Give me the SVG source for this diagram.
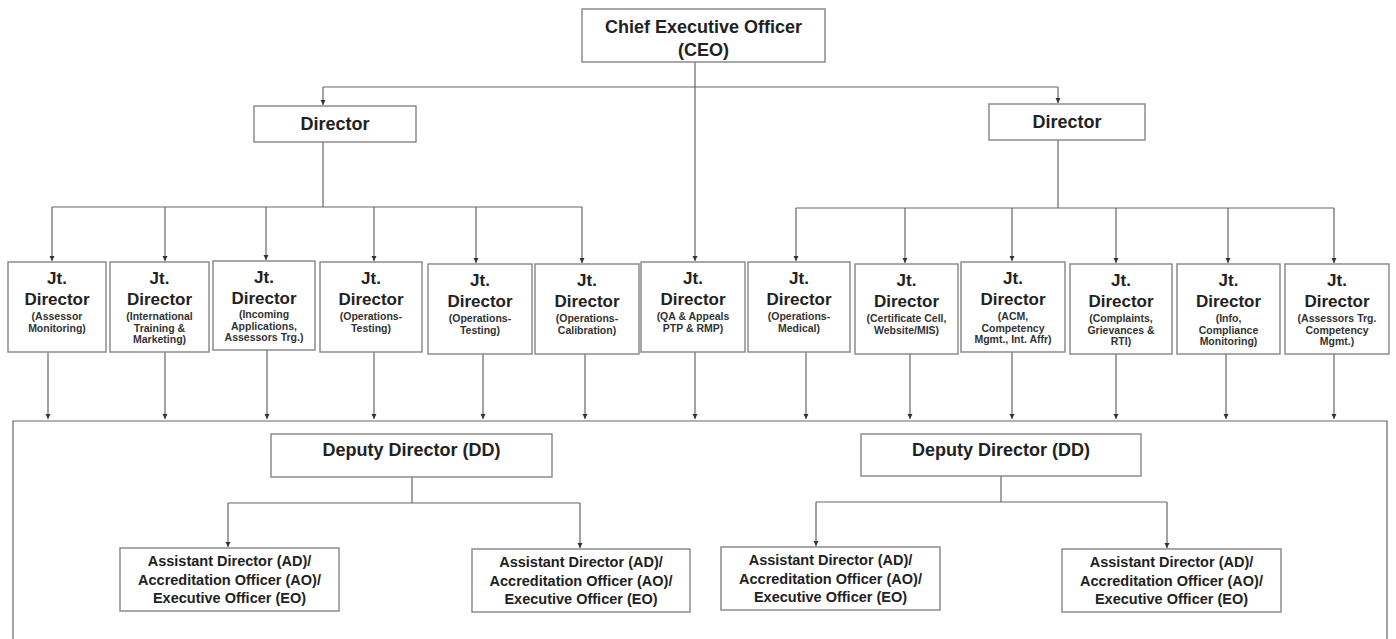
<svg xmlns="http://www.w3.org/2000/svg" width="1396" height="639" viewBox="0 0 1396 639">
<defs>
<marker id="ah" markerUnits="userSpaceOnUse" markerWidth="6" markerHeight="6" refX="5" refY="3" orient="auto">
<path d="M0,0.5 L5,3 L0,5.5 Z" fill="#333"/>
</marker>
<style>
.box{fill:#fff;stroke:#8c8c8c;stroke-width:1.5}
.t{font-family:"Liberation Sans",Arial,sans-serif;font-weight:bold;fill:#222;text-anchor:middle}
.big{font-size:18px}
.jt{font-size:17px}
.sub{font-size:10.5px;fill:#333}
.ad{font-size:14.5px}
.c{fill:none;stroke:#666;stroke-width:1.2}
.a{fill:none;stroke:#666;stroke-width:1.2;marker-end:url(#ah)}
</style>
</defs>
<rect width="1396" height="639" fill="#fff"/>

<g id="connectors">
<!-- CEO -->
<path class="a" d="M695,62 V261"/>
<path class="c" d="M323,87 H1058"/>
<path class="a" d="M323,87 V105"/>
<path class="a" d="M1058,87 V103"/>
<!-- left director -->
<path class="c" d="M323,142 V207"/>
<path class="c" d="M52,207 H582"/>
<path class="a" d="M52,207 V261"/>
<path class="a" d="M165,207 V261"/>
<path class="a" d="M266,207 V260"/>
<path class="a" d="M374,207 V261"/>
<path class="a" d="M476,207 V263"/>
<path class="a" d="M582,207 V263"/>
<!-- right director -->
<path class="c" d="M1058,140 V208"/>
<path class="c" d="M796,208 H1334"/>
<path class="a" d="M796,208 V261"/>
<path class="a" d="M905,208 V263"/>
<path class="a" d="M1012,208 V261"/>
<path class="a" d="M1116,208 V263"/>
<path class="a" d="M1228,208 V263"/>
<path class="a" d="M1334,208 V263"/>
<!-- JD to bracket -->
<path class="a" d="M48,352 V419"/>
<path class="a" d="M165,352 V419"/>
<path class="a" d="M267,350 V419"/>
<path class="a" d="M374,352 V419"/>
<path class="a" d="M483,354 V419"/>
<path class="a" d="M585,354 V419"/>
<path class="a" d="M695,352 V419"/>
<path class="a" d="M806,352 V419"/>
<path class="a" d="M910,354 V419"/>
<path class="a" d="M1012,352 V419"/>
<path class="a" d="M1116,354 V419"/>
<path class="a" d="M1226,354 V419"/>
<path class="a" d="M1334,354 V419"/>
<!-- bracket -->
<path class="c" d="M13,639 V421 H1387 V639"/>
<!-- left DD -->
<path class="c" d="M412,477 V503"/>
<path class="c" d="M228,503 H580"/>
<path class="a" d="M228,503 V547"/>
<path class="a" d="M580,503 V548"/>
<!-- right DD -->
<path class="c" d="M1001,476 V502"/>
<path class="c" d="M816,502 H1167"/>
<path class="a" d="M816,502 V546"/>
<path class="a" d="M1167,502 V548"/>
</g>

<g id="ceo">
<rect class="box" x="582" y="9" width="243" height="53"/>
<text class="t big" x="703.5" y="33">Chief Executive Officer</text>
<text class="t big" x="703.5" y="56">(CEO)</text>
</g>

<g id="director-left">
<rect class="box" x="254" y="106" width="162" height="36"/>
<text class="t big" x="335" y="130">Director</text>
</g>
<g id="director-right">
<rect class="box" x="989" y="104" width="156" height="36"/>
<text class="t big" x="1067" y="128">Director</text>
</g>

<g id="jd1">
<rect class="box" x="8" y="262" width="98" height="90"/>
<text class="t jt" x="57" y="284">Jt.</text>
<text class="t jt" x="57" y="305">Director</text>
<text class="t sub" x="57" y="320">(Assessor</text>
<text class="t sub" x="57" y="331.5">Monitoring)</text>
</g>
<g id="jd2">
<rect class="box" x="110" y="262" width="99" height="90"/>
<text class="t jt" x="159.5" y="284">Jt.</text>
<text class="t jt" x="159.5" y="305">Director</text>
<text class="t sub" x="159.5" y="320">(International</text>
<text class="t sub" x="159.5" y="331.5">Training &amp;</text>
<text class="t sub" x="159.5" y="343">Marketing)</text>
</g>
<g id="jd3">
<rect class="box" x="213" y="261" width="102" height="89"/>
<text class="t jt" x="264" y="283">Jt.</text>
<text class="t jt" x="264" y="304">Director</text>
<text class="t sub" x="264" y="318">(Incoming</text>
<text class="t sub" x="264" y="329.5">Applications,</text>
<text class="t sub" x="264" y="341">Assessors Trg.)</text>
</g>
<g id="jd4">
<rect class="box" x="320" y="262" width="102" height="90"/>
<text class="t jt" x="371" y="284">Jt.</text>
<text class="t jt" x="371" y="305">Director</text>
<text class="t sub" x="371" y="320">(Operations-</text>
<text class="t sub" x="371" y="331.5">Testing)</text>
</g>
<g id="jd5">
<rect class="box" x="428" y="264" width="104" height="90"/>
<text class="t jt" x="480" y="286">Jt.</text>
<text class="t jt" x="480" y="307">Director</text>
<text class="t sub" x="480" y="322">(Operations-</text>
<text class="t sub" x="480" y="333.5">Testing)</text>
</g>
<g id="jd6">
<rect class="box" x="535" y="264" width="104" height="90"/>
<text class="t jt" x="587" y="286">Jt.</text>
<text class="t jt" x="587" y="307">Director</text>
<text class="t sub" x="587" y="322">(Operations-</text>
<text class="t sub" x="587" y="333.5">Calibration)</text>
</g>
<g id="jd7">
<rect class="box" x="641" y="262" width="104" height="90"/>
<text class="t jt" x="693" y="284">Jt.</text>
<text class="t jt" x="693" y="305">Director</text>
<text class="t sub" x="693" y="320">(QA &amp; Appeals</text>
<text class="t sub" x="693" y="331.5">PTP &amp; RMP)</text>
</g>
<g id="jd8">
<rect class="box" x="748" y="262" width="102" height="90"/>
<text class="t jt" x="799" y="284">Jt.</text>
<text class="t jt" x="799" y="305">Director</text>
<text class="t sub" x="799" y="320">(Operations-</text>
<text class="t sub" x="799" y="331.5">Medical)</text>
</g>
<g id="jd9">
<rect class="box" x="855" y="264" width="103" height="90"/>
<text class="t jt" x="906.5" y="286">Jt.</text>
<text class="t jt" x="906.5" y="307">Director</text>
<text class="t sub" x="906.5" y="322">(Certificate Cell,</text>
<text class="t sub" x="906.5" y="333.5">Website/MIS)</text>
</g>
<g id="jd10">
<rect class="box" x="961" y="262" width="104" height="90"/>
<text class="t jt" x="1013" y="284">Jt.</text>
<text class="t jt" x="1013" y="305">Director</text>
<text class="t sub" x="1013" y="320">(ACM,</text>
<text class="t sub" x="1013" y="331.5">Competency</text>
<text class="t sub" x="1013" y="343">Mgmt., Int. Affr)</text>
</g>
<g id="jd11">
<rect class="box" x="1070" y="264" width="102" height="90"/>
<text class="t jt" x="1121" y="286">Jt.</text>
<text class="t jt" x="1121" y="307">Director</text>
<text class="t sub" x="1121" y="322">(Complaints,</text>
<text class="t sub" x="1121" y="333.5">Grievances &amp;</text>
<text class="t sub" x="1121" y="345">RTI)</text>
</g>
<g id="jd12">
<rect class="box" x="1177" y="264" width="103" height="90"/>
<text class="t jt" x="1228.5" y="286">Jt.</text>
<text class="t jt" x="1228.5" y="307">Director</text>
<text class="t sub" x="1228.5" y="322">(Info,</text>
<text class="t sub" x="1228.5" y="333.5">Compliance</text>
<text class="t sub" x="1228.5" y="345">Monitoring)</text>
</g>
<g id="jd13">
<rect class="box" x="1285" y="264" width="104" height="90"/>
<text class="t jt" x="1337" y="286">Jt.</text>
<text class="t jt" x="1337" y="307">Director</text>
<text class="t sub" x="1337" y="322">(Assessors Trg.</text>
<text class="t sub" x="1337" y="333.5">Competency</text>
<text class="t sub" x="1337" y="345">Mgmt.)</text>
</g>

<g id="dd-left">
<rect class="box" x="271" y="434" width="281" height="43"/>
<text class="t big" x="411.5" y="456">Deputy Director (DD)</text>
</g>
<g id="dd-right">
<rect class="box" x="861" y="434" width="280" height="42"/>
<text class="t big" x="1001" y="456">Deputy Director (DD)</text>
</g>

<g id="ad1">
<rect class="box" x="120" y="548" width="219" height="63"/>
<text class="t ad" x="229.5" y="566">Assistant Director (AD)/</text>
<text class="t ad" x="229.5" y="584.5">Accreditation Officer (AO)/</text>
<text class="t ad" x="229.5" y="603">Executive Officer (EO)</text>
</g>
<g id="ad2">
<rect class="box" x="472" y="549" width="218" height="63"/>
<text class="t ad" x="581" y="567">Assistant Director (AD)/</text>
<text class="t ad" x="581" y="585.5">Accreditation Officer (AO)/</text>
<text class="t ad" x="581" y="604">Executive Officer (EO)</text>
</g>
<g id="ad3">
<rect class="box" x="721" y="547" width="219" height="63"/>
<text class="t ad" x="830.5" y="565">Assistant Director (AD)/</text>
<text class="t ad" x="830.5" y="583.5">Accreditation Officer (AO)/</text>
<text class="t ad" x="830.5" y="602">Executive Officer (EO)</text>
</g>
<g id="ad4">
<rect class="box" x="1062" y="549" width="219" height="63"/>
<text class="t ad" x="1171.5" y="567">Assistant Director (AD)/</text>
<text class="t ad" x="1171.5" y="585.5">Accreditation Officer (AO)/</text>
<text class="t ad" x="1171.5" y="604">Executive Officer (EO)</text>
</g>
</svg>
